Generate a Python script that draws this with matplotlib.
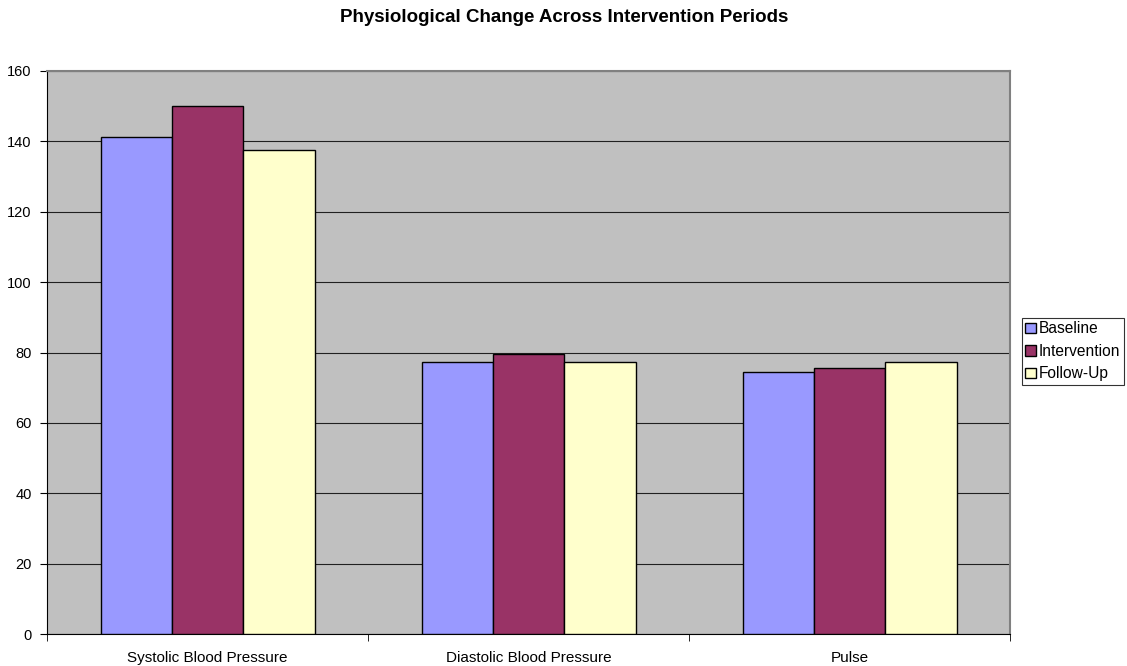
import matplotlib
matplotlib.use("Agg")
import matplotlib.pyplot as plt
import numpy as np

plt.rcParams['font.family'] = ['Liberation Sans', 'DejaVu Sans']

categories = ["Systolic Blood Pressure", "Diastolic Blood Pressure", "Pulse"]
series_names = ["Baseline", "Intervention", "Follow-Up"]
baseline = [141.3, 77.2, 74.5]
intervention = [150.0, 79.5, 75.6]
follow_up = [137.5, 77.2, 77.2]
series_values = [baseline, intervention, follow_up]
colors = ["#9999FF", "#993366", "#FFFFCC"]
y_ticks = [0, 20, 40, 60, 80, 100, 120, 140, 160]

W, H = 1127, 666
fig = plt.figure(figsize=(W / 100, H / 100), dpi=100)
ax = fig.add_axes([47 / W, (H - 634) / H, 963 / W, 563 / H])
ax.set_facecolor("#C0C0C0")

n = len(series_names)
bar_w = 1.0 / (n + 1.5)
x = np.arange(len(categories))
for i, (name, vals, col) in enumerate(zip(series_names, series_values, colors)):
    offs = (i - (n - 1) / 2) * bar_w
    ax.bar(x + offs, vals, width=bar_w, color=col, edgecolor="black",
           linewidth=1.0, label=name, zorder=3)

ax.set_xlim(-0.5, len(categories) - 0.5)
ax.set_ylim(0, 160)
ax.set_yticks(y_ticks)
ax.set_yticklabels([str(t) for t in y_ticks], fontsize=10.5)
ax.yaxis.grid(True, color="#202020", linewidth=0.8, zorder=1)
ax.set_axisbelow(True)

# category labels centred, tick marks on the boundaries
ax.set_xticks(x)
ax.set_xticklabels(categories, fontsize=11)
ax.tick_params(axis="x", which="major", length=0, pad=12)
ax.set_xticks(np.arange(len(categories) + 1) - 0.5, minor=True)
ax.tick_params(axis="x", which="minor", length=5, direction="out", color="black")
ax.tick_params(axis="y", length=5, direction="out", color="black", pad=6)

for side in ("top", "right"):
    ax.spines[side].set_color("#808080")
    ax.spines[side].set_linewidth(1.5)
ax.spines["left"].set_color("black")
ax.spines["bottom"].set_color("black")

fig.text(564 / W, 1 - 17 / H, "Physiological Change Across Intervention Periods",
         ha="center", va="center", fontsize=13.5, fontweight="bold")

leg = fig.legend(loc="upper left", bbox_to_anchor=(1022 / W, 1 - 318 / H),
                 fontsize=11.2, frameon=True, fancybox=False, edgecolor="black",
                 borderpad=0.22, handlelength=0.65, handleheight=0.65,
                 handletextpad=0.2, labelspacing=0.48, borderaxespad=0)
leg.get_frame().set_linewidth(0.8)

fig.savefig("out.png", dpi=100)
